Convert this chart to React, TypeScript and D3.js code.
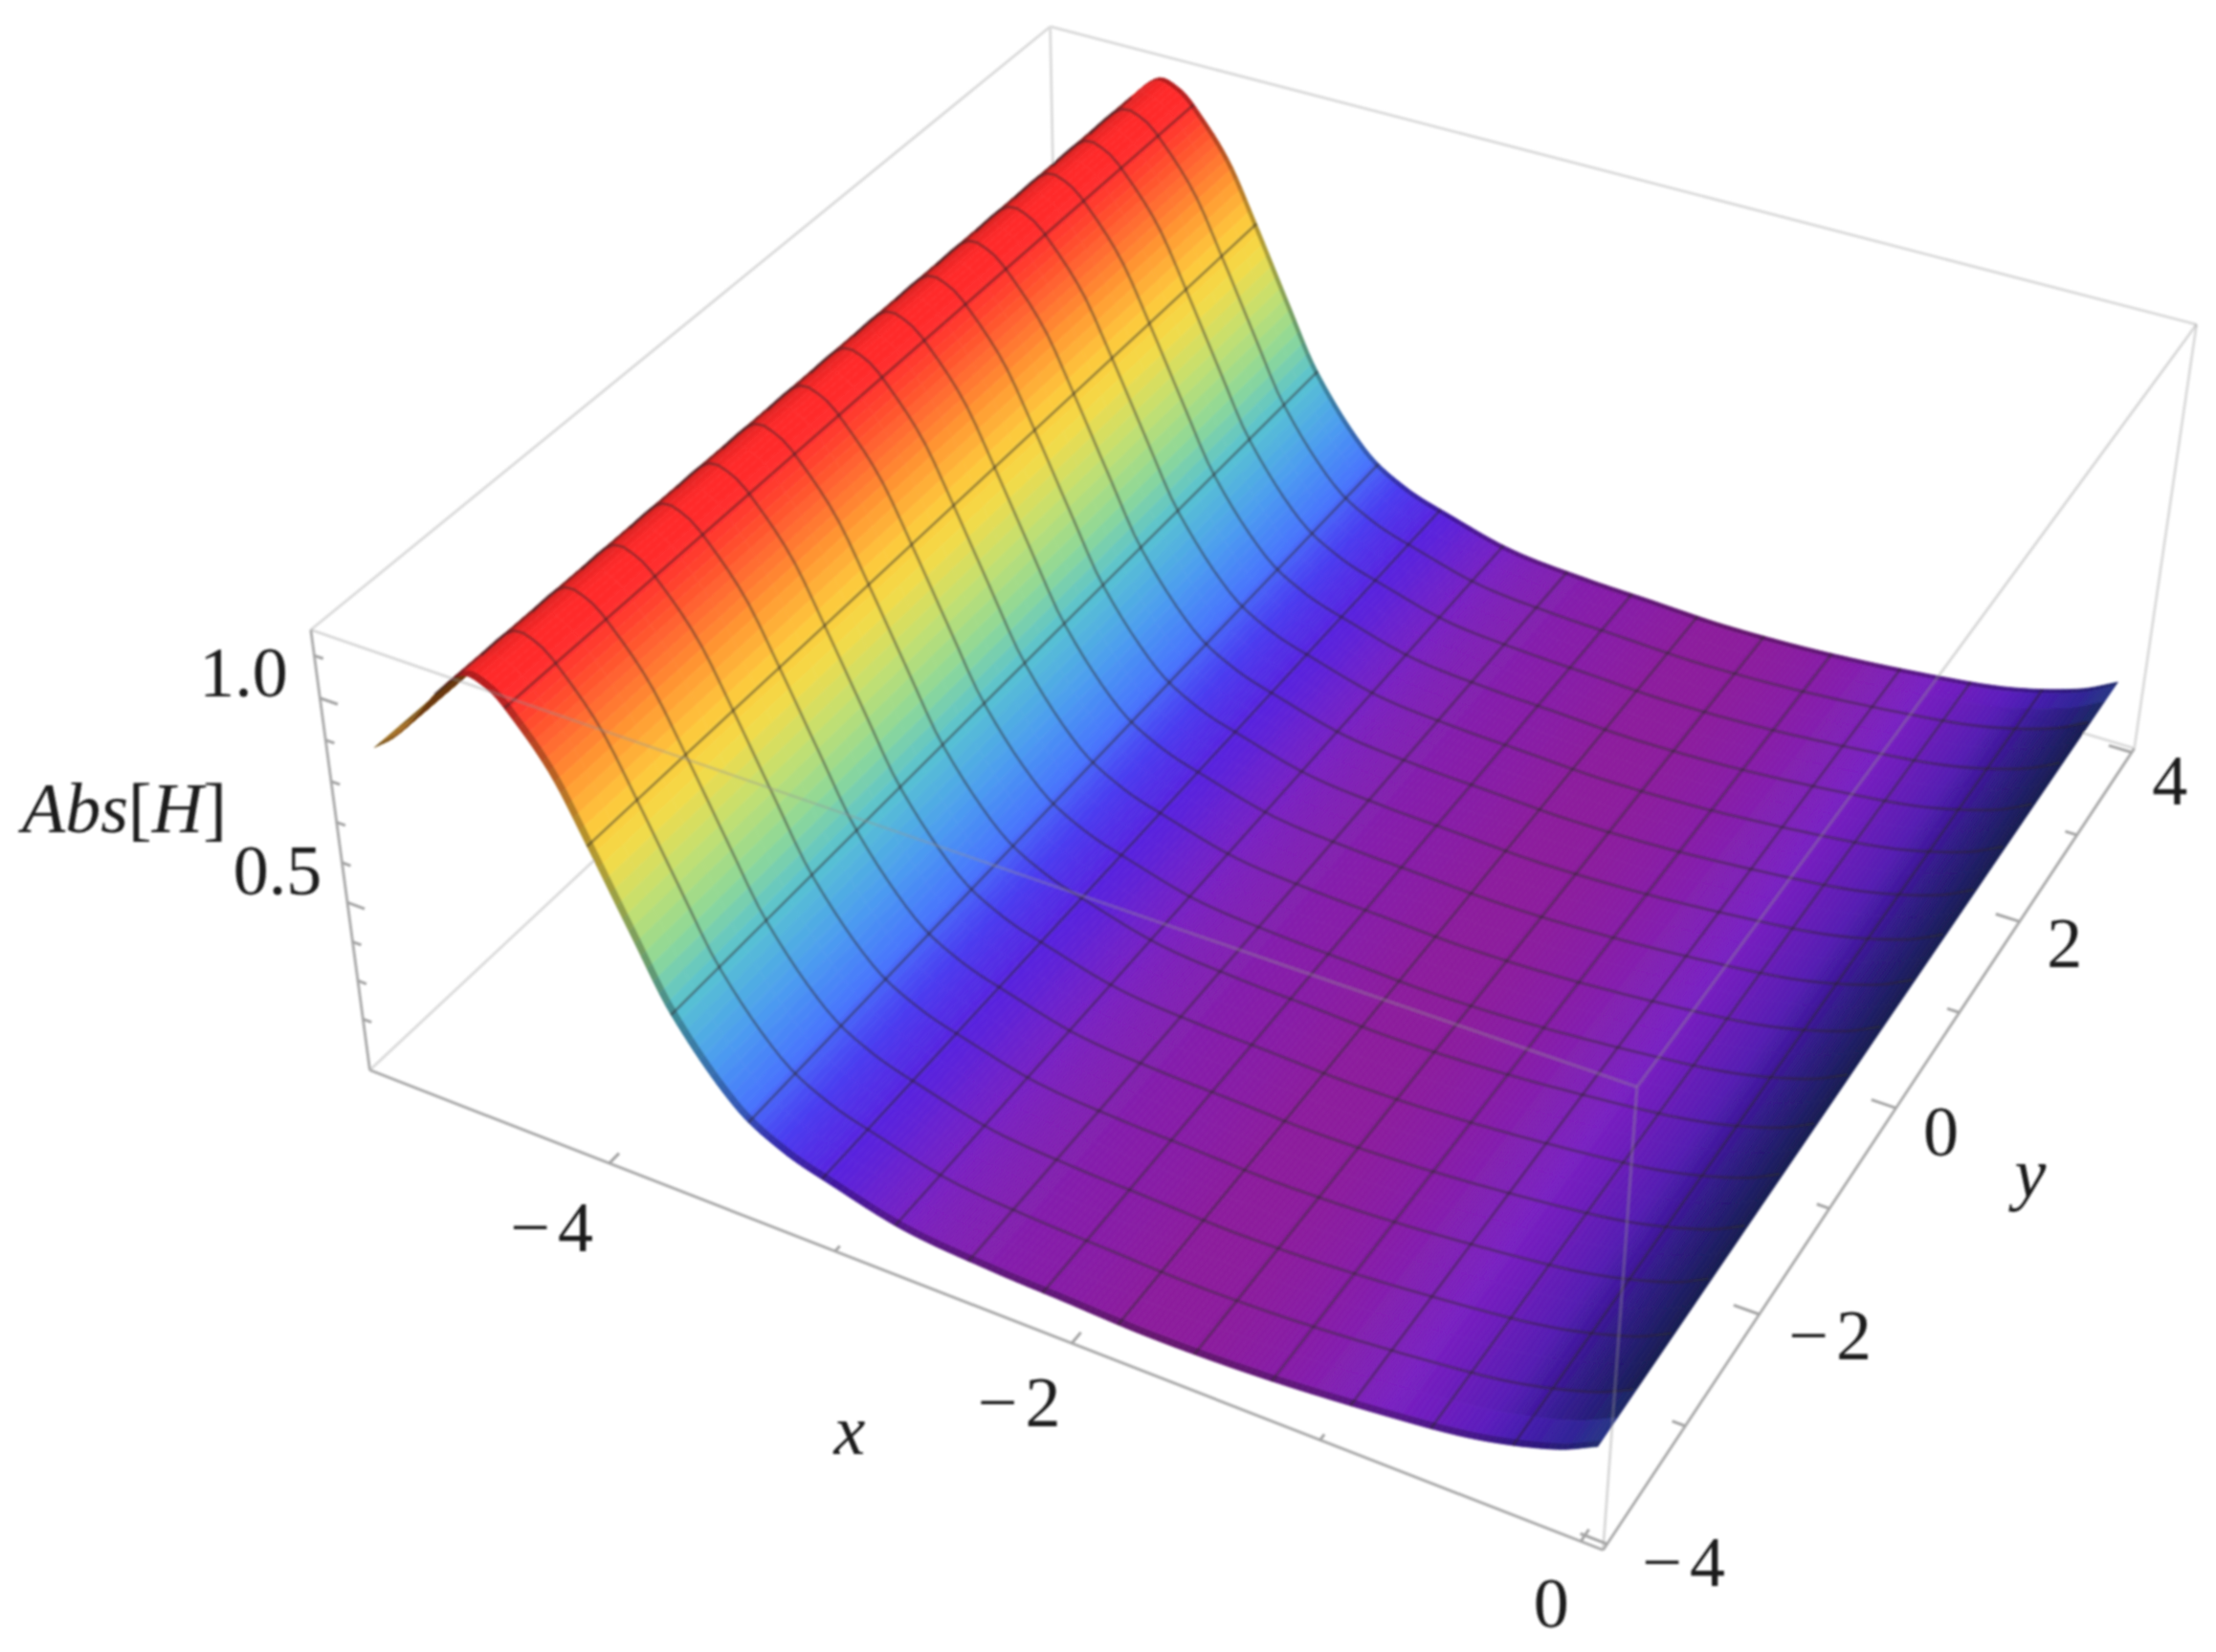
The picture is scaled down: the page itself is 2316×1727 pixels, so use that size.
import React, { useEffect, useRef } from "react";
import * as d3 from "d3";

// ---------- data ----------
const profileX = [-4.914, -4.816, -4.717, -4.598, -4.47, -4.371, -4.297, -4.124, -3.986, -3.828, -3.68, -3.433, -3.235, -3.028, -2.712, -2.346, -2.07, -1.685, -1.211, -0.658, -0.391, -0.124, 0.024];
const profileZ = [0.908, 0.95, 1.01, 1.095, 1.16, 1.149, 1.116, 0.996, 0.848, 0.667, 0.503, 0.328, 0.257, 0.218, 0.171, 0.153, 0.147, 0.139, 0.148, 0.178, 0.203, 0.25, 0.295];
const xTicks = [-4, -2, 0];
const yTicks = [-4, -2, 0, 2, 4];
const zTicks = [0.5, 1.0];
const xMinor = [-3, -1];
const yMinor = [-3, -1, 1, 3];
const zMinor = [0.2, 0.3, 0.4, 0.6, 0.7, 0.8, 0.9, 1.1];
const surfaceYEnd = 3.77;
const meshCount = 15;

const colorStops = [0, 0.03, 0.075, 0.12, 0.17, 0.25, 0.35, 0.45, 0.55, 0.65, 0.72, 0.8, 0.88, 0.96, 1];
const colorValues = ["#8c1f9c", "#7a20c0", "#5a22dc", "#4a3cf0", "#4876fc", "#4c9cf0", "#56c0d4", "#8ed898", "#c4e070", "#f4da48", "#fdc93c", "#ff9c34", "#ff6630", "#ff2e2e", "#ff2a2a"];
const shadeX = [-4.914, -4.717, -4.598, -4.51, -4.4, -0.766, -0.42, -0.174, 0.024];
const shadeV = [0.45, 0.55, 0.65, 0.8, 1, 1, 0.85, 0.55, 0.32];

// ---------- box layout: where the cube's corners sit on the page ----------
const cubeCorners = [
  { c: [0, 0, 0], s: [391, 1118] },
  { c: [1, 0, 0], s: [1678, 1622] },
  { c: [1, 1, 0], s: [2233, 777] },
  { c: [0, 1, 0], s: [1098, 450] },
  { c: [0, 0, 1], s: [321, 657] },
  { c: [1, 0, 1], s: [1707, 1137] },
  { c: [1, 1, 1], s: [2294, 343] },
  { c: [0, 1, 1], s: [1105, 25] },
];
const xLabelOffset = new Map<number, [number, number]>([[-4, [-56, 67]], [-2, [-51, 62]], [0, [-31, 65]]]);
const yLabelOffset = new Map<number, [number, number]>([[-4, [84, 19]], [-2, [78, 22]], [0, [47, 25]], [2, [47, 23]], [4, [40, 29]]]);
const zLabelOffset = new Map<number, [number, number]>([[0.5, [-73, -33]], [1, [-80, -27]]]);

function solveCamera() {
  const rows: number[][] = [];
  const rhs: number[] = [];
  for (const { c, s } of cubeCorners) {
    const u = s[0] / 1000, v = s[1] / 1000;
    const [a, b, d] = c;
    rows.push([a, b, d, 1, 0, 0, 0, 0, -u * a, -u * b, -u * d]); rhs.push(u);
    rows.push([0, 0, 0, 0, a, b, d, 1, -v * a, -v * b, -v * d]); rhs.push(v);
  }
  const n = 11;
  const M = Array.from({ length: n }, (_, i) => {
    const r = new Array(n + 1).fill(0);
    for (let j = 0; j < n; j++) rows.forEach(row => (r[j] += row[i] * row[j]));
    rows.forEach((row, k) => (r[n] += row[i] * rhs[k]));
    return r;
  });
  for (let i = 0; i < n; i++) {
    let p = i;
    for (let k = i + 1; k < n; k++) if (Math.abs(M[k][i]) > Math.abs(M[p][i])) p = k;
    [M[i], M[p]] = [M[p], M[i]];
    for (let k = 0; k < n; k++) {
      if (k === i) continue;
      const f = M[k][i] / M[i][i];
      for (let j = i; j <= n; j++) M[k][j] -= f * M[i][j];
    }
  }
  return M.map((r, i) => r[n] / r[i]);
}

const cam = solveCamera();
const xLow = -5.112, xHigh = 0.083, yLow = -4.05, yHigh = 4.05, zLow = 0.065, zHigh = 1.16;
const sx = d3.scaleLinear().domain([xLow, xHigh]).range([0, 1]);
const sy = d3.scaleLinear().domain([yLow, yHigh]).range([0, 1]);
const sz = d3.scaleLinear().domain([zLow, zHigh]).range([0, 1]);

function corner(a: number, b: number, d: number): [number, number] {
  const w = cam[8] * a + cam[9] * b + cam[10] * d + 1;
  return [
    (1000 * (cam[0] * a + cam[1] * b + cam[2] * d + cam[3])) / w,
    (1000 * (cam[4] * a + cam[5] * b + cam[6] * d + cam[7])) / w,
  ];
}
const project = (x: number, y: number, z: number) => corner(sx(x), sy(y), sz(z));

// smooth reading between the profile values
function height(x: number): number {
  const n = profileX.length;
  let i = d3.bisectRight(profileX, x) - 1;
  i = Math.max(0, Math.min(n - 2, i));
  const tan = (k: number) => {
    const a = Math.max(0, k - 1), b = Math.min(n - 1, k + 1);
    return (profileZ[b] - profileZ[a]) / (profileX[b] - profileX[a]);
  };
  const h = profileX[i + 1] - profileX[i];
  const t = (x - profileX[i]) / h;
  const t2 = t * t, t3 = t2 * t;
  return (2 * t3 - 3 * t2 + 1) * profileZ[i] + (t3 - 2 * t2 + t) * h * tan(i) +
    (-2 * t3 + 3 * t2) * profileZ[i + 1] + (t3 - t2) * h * tan(i + 1);
}

const xStart = profileX[0], xEnd = profileX[profileX.length - 1];
const yOf = d3.scaleLinear().domain([-4, 4]).range([-4, surfaceYEnd]);

const zMin = d3.min(profileZ) as number;
const zMax = d3.max(profileZ) as number;
const colorT = d3.scaleLinear().domain([zMin, zMax]).range([0, 1]).clamp(true);
const rainbow = d3.scaleLinear<string>().domain(colorStops).range(colorValues).interpolate(d3.interpolateRgb);
const shadeScale = d3.scaleLinear().domain(shadeX).range(shadeV).clamp(true);

function quadColor(x: number, v: number): string {
  let s = shadeScale(x);
  const ay = Math.abs(v);
  if (ay > 3.5) s = 1 - (1 - s) * (0.55 + (0.45 * (4 - ay)) / 0.5);
  const c = d3.rgb(rainbow(colorT(height(x))));
  const e = ay > 3.95 ? 0.72 : 1;
  return d3.rgb(c.r * s * e, c.g * s * e, c.b * s * e).formatHex();
}

const LABEL_FONT = "'Liberation Serif', serif";
const FS = 74;

export default function App() {
  const ref = useRef<SVGSVGElement | null>(null);
  useEffect(() => {
    const svg = d3.select(ref.current as SVGSVGElement);
    svg.selectAll("*").remove();
    const defs = svg.append("defs");
    defs.append("filter").attr("id", "soft").attr("filterUnits", "userSpaceOnUse")
      .attr("x", 0).attr("y", 0).attr("width", 2316).attr("height", 1727)
      .append("feGaussianBlur").attr("stdDeviation", 1.15);
    const g = svg.append("g").attr("filter", "url(#soft)");

    const line = d3.line<[number, number]>();
    const edge = (a: number[], b: number[], stroke: string, w = 3) =>
      g.append("path").attr("d", line([corner(a[0], a[1], a[2]), corner(b[0], b[1], b[2])]))
        .attr("fill", "none").attr("stroke", stroke).attr("stroke-width", w);

    // back edges
    const back = "#dcdcdc";
    edge([0, 1, 0], [0, 1, 1], back);
    edge([0, 1, 0], [1, 1, 0], back);
    edge([0, 1, 0], [0, 0, 0], back);
    edge([0, 1, 1], [0, 0, 1], back);
    edge([0, 1, 1], [1, 1, 1], back);
    edge([1, 1, 0], [1, 1, 1], back);

    // surface, far to near
    const nx = 220;
    const vRows = [-4, -3.95, ...d3.range(-3.75, 3.76, 0.25), 3.95, 4];
    const surf = g.append("g");
    for (let i = 0; i < nx; i++) {
      const x0 = xStart + (i * (xEnd - xStart)) / nx, x1 = xStart + ((i + 1) * (xEnd - xStart)) / nx;
      const z0 = height(x0), z1 = height(x1);
      for (let j = vRows.length - 2; j >= 0; j--) {
        const y0 = yOf(vRows[j]), y1 = yOf(vRows[j + 1]);
        const p = [project(x0, y0, z0), project(x1, y0, z1), project(x1, y1, z1), project(x0, y1, z0)];
        let area = 0;
        for (let k = 0; k < 4; k++) {
          const a = p[k], b = p[(k + 1) % 4];
          area += a[0] * b[1] - b[0] * a[1];
        }
        const fill = area > 0 ? "#6b3a08" : quadColor((x0 + x1) / 2, (vRows[j] + vRows[j + 1]) / 2);
        surf.append("path").attr("d", line(p as [number, number][]) + "Z")
          .attr("fill", fill).attr("stroke", fill).attr("stroke-width", 0.7);
      }
    }

    // mesh
    const mesh = g.append("g").attr("fill", "none").attr("stroke", "rgba(45,35,40,0.42)").attr("stroke-width", 3.1);
    d3.range(1, meshCount + 1).forEach(k => {
      const x = xStart + (k * (xEnd - xStart)) / (meshCount + 1);
      const z = height(x);
      mesh.append("path").attr("d", line(d3.range(0, 9).map(q => project(x, yOf(-4 + q), z))));
    });
    d3.range(1, meshCount + 1).forEach(k => {
      const y = yOf(-4 + (k * 8) / (meshCount + 1));
      mesh.append("path").attr("d", line(d3.range(-4.63, xEnd, 0.04).map(v => project(v, y, height(v)))));
    });

    // front edges over the surface
    const over = "rgba(150,150,150,0.36)";
    edge([0, 0, 1], [1, 0, 1], over);
    edge([1, 0, 1], [1, 1, 1], over);
    edge([1, 0, 0], [1, 0, 1], over);

    // axis edges
    const axisC = "#acacac";
    edge([0, 0, 0], [1, 0, 0], axisC);
    edge([1, 0, 0], [1, 1, 0], axisC);
    edge([0, 0, 0], [0, 0, 1], axisC);

    const tick = (a: [number, number], b: [number, number]) =>
      g.append("path").attr("d", line([a, b])).attr("stroke", "#a4a4a4").attr("stroke-width", 3).attr("fill", "none");
    xTicks.forEach(v => tick(project(v, yLow, zLow), project(v, yLow + 0.1, zLow)));
    xMinor.forEach(v => tick(project(v, yLow, zLow), project(v, yLow + 0.05, zLow)));
    yTicks.forEach(v => tick(project(xHigh, v, zLow), project(xHigh - 0.1, v, zLow)));
    yMinor.forEach(v => tick(project(xHigh, v, zLow), project(xHigh - 0.05, v, zLow)));
    zTicks.forEach(v => tick(project(xLow, yLow, v), project(xLow + 0.08, yLow, v)));
    zMinor.forEach(v => tick(project(xLow, yLow, v), project(xLow + 0.04, yLow, v)));

    // labels
    const label = (t: string, p: [number, number], italic = false) =>
      g.append("text").attr("x", p[0]).attr("y", p[1]).attr("text-anchor", "middle")
        .attr("dominant-baseline", "central").attr("font-family", LABEL_FONT).attr("font-size", FS)
        .attr("font-style", italic ? "italic" : "normal").attr("fill", "#1a1a1a")
        .attr("letter-spacing", t.startsWith("\u2212") ? 8 : 0).text(t);
    const fmt = (v: number) => (v < 0 ? "\u2212" + Math.abs(v) : String(v));
    const placed = (p: [number, number], o: [number, number]): [number, number] => [p[0] + o[0], p[1] + o[1]];
    xTicks.forEach(v => label(fmt(v), placed(project(v, yLow, zLow), xLabelOffset.get(v)!)));
    yTicks.forEach(v => label(fmt(v), placed(project(xHigh, v, zLow), yLabelOffset.get(v)!)));
    zTicks.forEach(v => label(v.toFixed(1), placed(project(xLow, yLow, v), zLabelOffset.get(v)!)));
    label("x", [888, 1495], true);
    label("y", [2122, 1226], true);
    const az = g.append("text").attr("x", 130).attr("y", 845).attr("text-anchor", "middle")
      .attr("dominant-baseline", "central").attr("font-family", LABEL_FONT).attr("font-size", FS).attr("fill", "#1a1a1a");
    az.append("tspan").attr("font-style", "italic").text("Abs");
    az.append("tspan").text("[");
    az.append("tspan").attr("font-style", "italic").text("H");
    az.append("tspan").text("]");
  }, []);
  return (
    <svg ref={ref} width={2316} height={1727} viewBox="0 0 2316 1727"
      style={{ position: "absolute", left: 0, top: 0, display: "block", background: "#fff" }} />
  );
}
